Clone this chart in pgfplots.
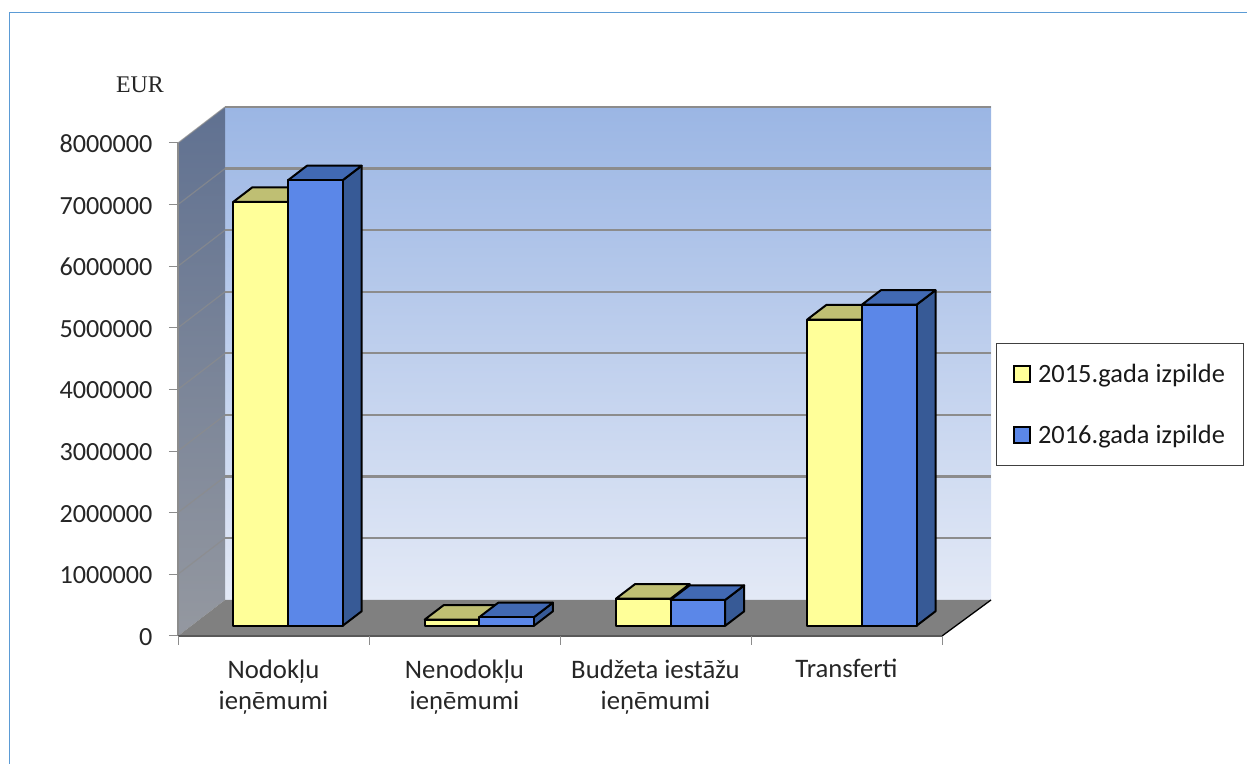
\documentclass[border=0pt]{standalone}
\usepackage{fontspec}
\setmainfont{Carlito}
\newfontfamily\eurfont{Liberation Serif}
\usepackage{pgfplots}
\usepackage{pgfplotstable}
\pgfplotsset{compat=1.18}

\definecolor{frameblue}{HTML}{5B9BD5}
\definecolor{ytop}{HTML}{BFBF73}
\definecolor{yfront}{HTML}{FFFF99}
\definecolor{bfront}{HTML}{5B87E8}
\definecolor{btop}{HTML}{4169B3}
\definecolor{bside}{HTML}{375A96}
\definecolor{gridgr}{HTML}{8C8C8C}

% values, EUR
\pgfplotstableread{
cat v2015 v2016
0 6880000 7230000
1 100000 140000
2 440000 420000
3 4970000 5210000
}\vals

% unit faces of a box: a = along width, b = along height, c = along depth
\pgfplotstableread{
a b c
0 0 0
1 0 0
1 1 0
0 1 0
}\facefront
\pgfplotstableread{
a b c
0 1 0
1 1 0
1 1 1
0 1 1
}\facetop
\pgfplotstableread{
a b c
1 0 0
1 1 0
1 1 1
1 0 1
}\faceside

\newcommand{\boxface}[3]{% face, left x, fill
  \addplot[forget plot, fill=#3, draw=black, line width=2bp, line join=round]
    table[x expr={#2+\thisrow{a}*0.286+\thisrow{c}*0.0995},
          y expr={\thisrow{b}*\barval+165700+\thisrow{c}*235500}] {#1} -- cycle;
}
\newcommand{\onebar}[6]{% row, column, x offset, front, top, side
  \pgfplotstablegetelem{#1}{#2}\of\vals
  \let\barval\pgfplotsretval
  \boxface{\faceside}{#1*1.0015+#3}{#6}
  \boxface{\facetop}{#1*1.0015+#3}{#5}
  \boxface{\facefront}{#1*1.0015+#3}{#4}
}

\begin{document}
\begin{tikzpicture}
\path[use as bounding box] (0,0) rectangle (1247bp,764bp);
\begin{scope}[x=1bp,y=-1bp,shift={(0bp,764bp)}]
  \draw[frameblue,line width=1bp] (9.5,764) -- (9.5,12.5) -- (1247,12.5);
  % back wall
  \shade[top color={rgb,255:red,155;green,182;blue,228},bottom color={rgb,255:red,227;green,233;blue,246}]
    (225,107) rectangle (991,600);
  % side wall
  \begin{scope}
    \clip (178,143) -- (225,107) -- (225,600) -- (178,636) -- cycle;
    \shade[top color={rgb,255:red,96;green,113;blue,145},bottom color={rgb,255:red,148;green,152;blue,160}]
      (178,107) rectangle (225,636);
  \end{scope}
  \foreach \k in {0,...,7} {
    \draw[gridgr,line width=2.2bp] (225,107+61.6*\k) -- (991,107+61.6*\k);
    \draw[gridgr,opacity=0.7,line width=1.2bp] (178,143+61.6*\k) -- (225,107+61.6*\k);
  }
  \draw[gridgr,line width=1.2bp] (178,636) -- (178,143);
  % floor
  \fill[black!50] (178,636) -- (225,600) -- (991,600) -- (942,636) -- cycle;
  \draw[black,line width=1.3bp] (942,636) -- (991,600);
  \draw[black!65,line width=1.6bp] (178,636) -- (942,636);
\end{scope}
\node[font=\eurfont\fontsize{24}{26}\selectfont,text=black!85,anchor=base] at (140bp,671.5bp) {EUR};

\begin{axis}[
  at={(178bp,128bp)},
  anchor=south west,
  scale only axis,
  width=764bp, height=493bp,
  clip=false,
  xmin=0, xmax=4, ymin=0, ymax=8000000,
  axis x line=bottom,
  axis y line=left,
  axis line style={draw=none,-},
  xtick={0,1,2,3,4},
  x tick label as interval,
  xticklabels={{Nodokļu\\ieņēmumi},{Nenodokļu\\ieņēmumi},{Budžeta iestāžu\\ieņēmumi},{Transferti}},
  xtick style={gridgr,line width=1bp},
  ytick={0,1000000,...,8000000},
  ytick style={gridgr,line width=1bp},
  tick align=outside,
  major tick length=9bp,
  scaled y ticks=false,
  /pgf/number format/.cd, fixed, 1000 sep={}, assume math mode=true,
  /pgfplots/.cd,
  xticklabel style={font=\fontsize{26.8}{32}\selectfont,align=center,text=black!85,yshift=-11bp,anchor=north},
  yticklabel style={font=\fontsize{26.3}{30}\selectfont,text=black!85,xshift=-13bp,yshift=-1bp},
  legend style={at={(1.0707,0.594)},anchor=north west,draw=black!75,line width=1bp,
    font=\fontsize{26.5}{30}\selectfont,text=black!90,
    inner xsep=16bp,inner ysep=18.5bp,row sep=37bp,legend cell align=left},
  legend image code/.code={\draw[#1,line width=2bp] (2bp,-8bp) rectangle (18bp,8bp);
    \path (24bp,0bp);},
]
\onebar{0}{v2015}{0.290}{yfront}{ytop}{ytop}
\onebar{0}{v2016}{0.576}{bfront}{btop}{bside}
\onebar{1}{v2015}{0.290}{yfront}{ytop}{ytop}
\onebar{1}{v2016}{0.576}{bfront}{btop}{bside}
\onebar{2}{v2015}{0.290}{yfront}{ytop}{ytop}
\onebar{2}{v2016}{0.576}{bfront}{btop}{bside}
\onebar{3}{v2015}{0.290}{yfront}{ytop}{ytop}
\onebar{3}{v2016}{0.576}{bfront}{btop}{bside}
\addlegendimage{fill=yfront,draw=black}
\addlegendentry{2015.gada izpilde}
\addlegendimage{fill=bfront,draw=black}
\addlegendentry{2016.gada izpilde}
\end{axis}
\end{tikzpicture}
\end{document}
